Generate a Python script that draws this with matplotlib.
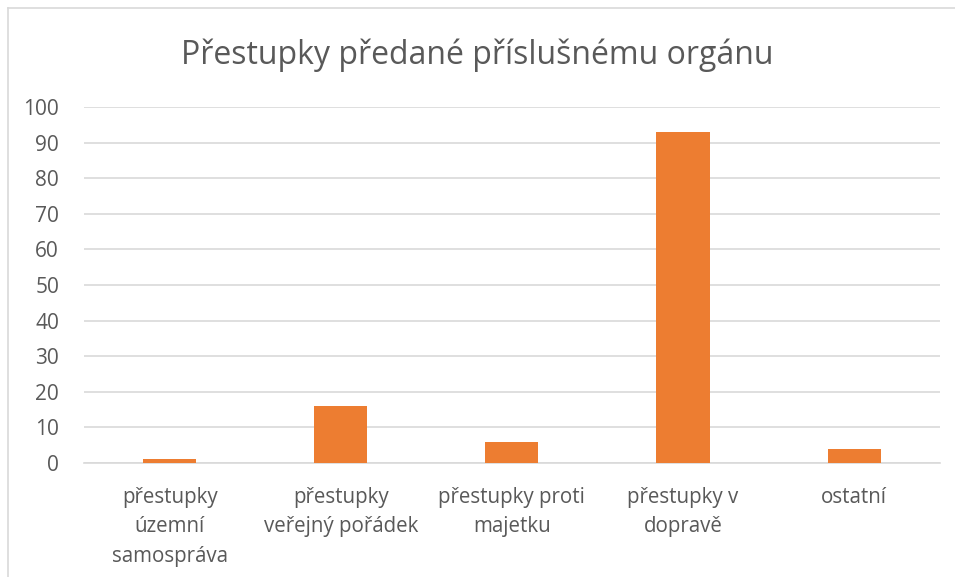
import matplotlib.pyplot as plt
import numpy as np
from matplotlib.lines import Line2D

# Data
categories = [
    'přestupky\núzemní\nsamospráva', 'přestupky\nveřejný pořádek',
    'přestupky proti\nmajetku', 'přestupky v\ndopravě', 'ostatní'
]
values = [1, 16, 6, 93, 4]
yticks = [0, 10, 20, 30, 40, 50, 60, 70, 80, 90, 100]

plt.rcParams['font.family'] = ['Open Sans', 'DejaVu Sans']

fig = plt.figure(figsize=(9.55, 5.77), dpi=100)
ax = fig.add_axes([0.088, 0.1976, 0.896, 0.617])

x = np.arange(len(categories))
ax.bar(x, values, width=0.31, color='#ED7D31', zorder=3)

ax.set_xlim(-0.5, len(categories) - 0.5)
ax.set_ylim(0, 100)
ax.set_yticks(yticks)
ax.set_xticks(x)
ax.set_xticklabels(categories, fontsize=14.8, color='#595959', linespacing=1.55)
ax.tick_params(axis='y', labelsize=15, labelcolor='#595959', length=0, pad=18)
ax.tick_params(axis='x', length=0, pad=17)

# Gridlines
ax.grid(axis='y', color='#D9D9D9', linewidth=1.2, zorder=0)
for side in ['top', 'right', 'left']:
    ax.spines[side].set_visible(False)
ax.spines['bottom'].set_color('#D9D9D9')
ax.spines['bottom'].set_linewidth(1.2)

fig.text(0.5, 0.905, 'Přestupky předané příslušnému orgánu', ha='center', va='center',
         fontsize=23, color='#595959')

# chart frame (top and left edges visible)
fig.add_artist(Line2D([8 / 955, 8 / 955], [0, 1 - 8 / 577], transform=fig.transFigure,
                      color='#D9D9D9', linewidth=1.2))
fig.add_artist(Line2D([8 / 955, 1], [1 - 8 / 577, 1 - 8 / 577], transform=fig.transFigure,
                      color='#D9D9D9', linewidth=1.2))

fig.savefig('out.png', dpi=100)
